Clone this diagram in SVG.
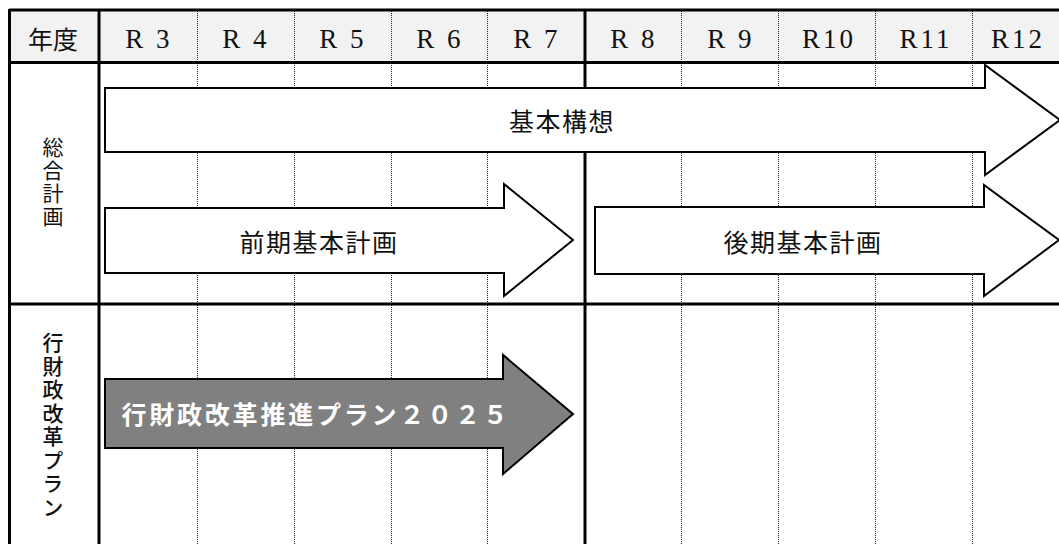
<svg xmlns="http://www.w3.org/2000/svg" width="1059" height="544" viewBox="0 0 1059 544">
<style>
.thick{stroke:#000;stroke-width:3;fill:none}
.dot{stroke:#222;stroke-width:1;stroke-dasharray:1 1;fill:none}
.hdr{font-family:"Liberation Serif","Noto Sans CJK JP",serif;font-size:27px;fill:#111;text-anchor:middle;letter-spacing:3px}
.jp{font-family:"Noto Sans CJK JP",sans-serif;fill:#111;text-anchor:middle;dominant-baseline:central}
.arrow{fill:#fff;stroke:#000;stroke-width:2;stroke-linejoin:miter}
.garrow{fill:#808080;stroke:#000;stroke-width:2}
.vert{writing-mode:vertical-rl;font-family:"Noto Sans CJK JP",sans-serif;font-size:21px;fill:#111;text-anchor:middle}
</style>
<rect x="0" y="0" width="1059" height="544" fill="#fff"/>
<g id="grid">
<rect x="9" y="9" width="1052" height="53" fill="#f2f2f2"/>
<line class="dot" x1="197.5" y1="9" x2="197.5" y2="544"/>
<line class="dot" x1="294.5" y1="9" x2="294.5" y2="544"/>
<line class="dot" x1="391.5" y1="9" x2="391.5" y2="544"/>
<line class="dot" x1="487.5" y1="9" x2="487.5" y2="544"/>
<line class="dot" x1="681.5" y1="9" x2="681.5" y2="544"/>
<line class="dot" x1="778.5" y1="9" x2="778.5" y2="544"/>
<line class="dot" x1="875.5" y1="9" x2="875.5" y2="544"/>
<line class="dot" x1="972.5" y1="9" x2="972.5" y2="544"/>
<line class="thick" x1="9" y1="10" x2="1059" y2="10"/>
<line class="thick" x1="9" y1="62.5" x2="1059" y2="62.5"/>
<line class="thick" x1="9" y1="304" x2="1059" y2="304"/>
<line class="thick" x1="9.5" y1="9" x2="9.5" y2="544"/>
<line class="thick" x1="99" y1="9" x2="99" y2="544"/>
<line class="thick" x1="585" y1="9" x2="585" y2="544"/>
</g>
<g id="header">
<text class="jp" x="53" y="38" font-size="25">年度</text>
<text class="hdr" x="149" y="48">R 3</text>
<text class="hdr" x="246" y="48">R 4</text>
<text class="hdr" x="343" y="48">R 5</text>
<text class="hdr" x="440" y="48">R 6</text>
<text class="hdr" x="537" y="48">R 7</text>
<text class="hdr" x="634" y="48">R 8</text>
<text class="hdr" x="731" y="48">R 9</text>
<text class="hdr" x="829" y="48">R10</text>
<text class="hdr" x="926" y="48">R11</text>
<text class="hdr" x="1018" y="48">R12</text>
</g>
<g id="label-sogo">
<text class="vert" x="53" y="183" letter-spacing="2">総合計画</text>
</g>
<g id="label-gyozai">
<text class="vert" x="53" y="426" letter-spacing="2.5" font-weight="500">行財政改革プラン</text>
</g>
<g id="arrow-kihon-koso">
<polygon class="arrow" points="105,88 985,88 985,65 1060,120 985,175 985,152 105,152"/>
<text class="jp" x="562" y="120" font-size="25" letter-spacing="1.5">基本構想</text>
</g>
<g id="arrow-zenki">
<polygon class="arrow" points="105,208 504,208 504,184 573,240 504,296 504,273 105,273"/>
<text class="jp" x="319" y="241" font-size="25" letter-spacing="1.5">前期基本計画</text>
</g>
<g id="arrow-koki">
<polygon class="arrow" points="595,207 984,207 984,185 1059,240 984,296 984,274 595,274"/>
<text class="jp" x="803" y="241" font-size="25" letter-spacing="1.5">後期基本計画</text>
</g>
<g id="arrow-plan2025">
<polygon class="garrow" points="105,379 503,379 503,355 573,414 503,474 503,448 105,448"/>
<text class="jp" x="316" y="413" font-size="25" font-weight="bold" letter-spacing="2.8" style="fill:#fff">行財政改革推進プラン２０２５</text>
</g>
</svg>
